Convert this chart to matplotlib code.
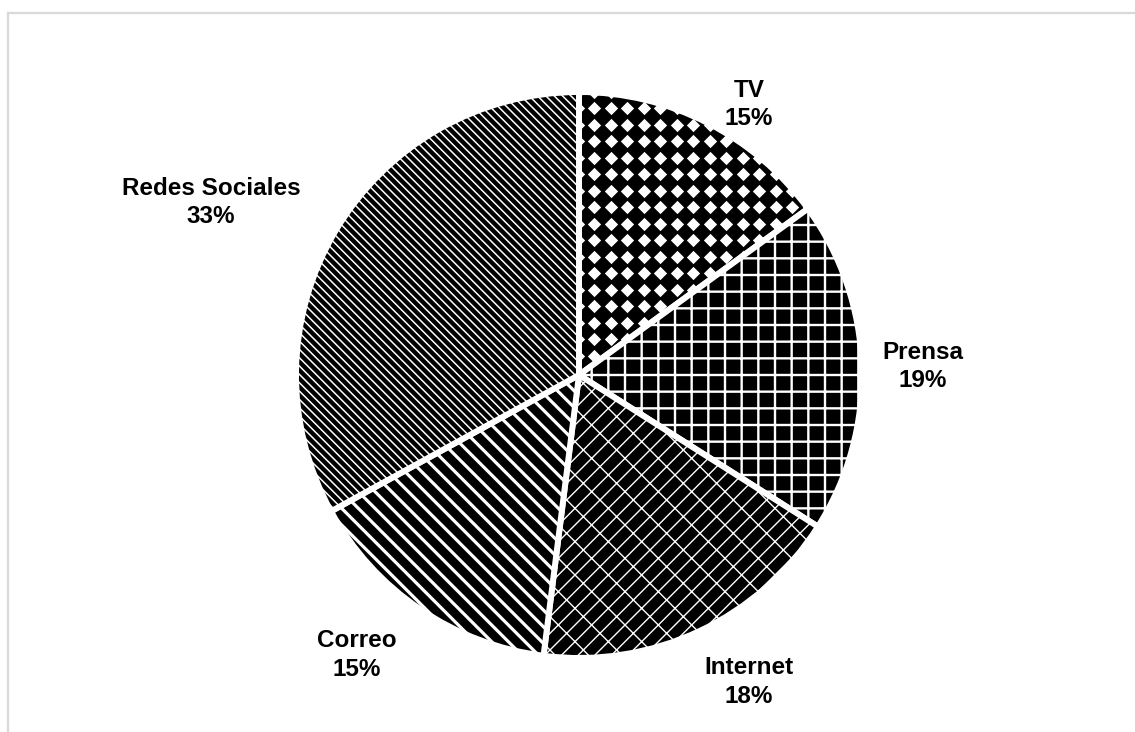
import numpy as np
import matplotlib
matplotlib.use("Agg")
from matplotlib import pyplot as plt
from matplotlib.lines import Line2D

plt.rcParams['font.family'] = ['Liberation Sans', 'DejaVu Sans']

# share of each channel, clockwise from 12 o'clock
canales = ['TV', 'Prensa', 'Internet', 'Correo', 'Redes Sociales']
porcentajes = [15, 19, 18, 15, 33]

# fill textures: (hatch string, hatch line width in pt)
texturas = [(None, 0), ('+', 1.7), ('//\\', 1.0), ('\\\\', 2.3), ('\\\\\\\\', 1.1)]
# label placement in pie-radius units
pos_etiquetas = [(0.60, 0.955), (1.215, 0.03), (0.60, -1.085), (-0.785, -0.99), (-1.30, 0.61)]

W, H, DPI = 1135, 732, 100
cx, cy, R = 579, 375, 283   # pixels

fig = plt.figure(figsize=(W / DPI, H / DPI), dpi=DPI)
ax = fig.add_axes([0, 0, 1, 1])

wedges, _ = ax.pie(porcentajes, startangle=90, counterclock=False, radius=1,
                   colors=['black'] * len(porcentajes),
                   wedgeprops=dict(edgecolor='white', linewidth=4.3))

for w, (h, lw) in zip(wedges, texturas):
    if h:
        if hasattr(w, 'set_hatch_linewidth'):
            w.set_hatch_linewidth(lw)
        else:
            plt.rcParams['hatch.linewidth'] = lw
        w.set_hatch(h)

ax.set_xlim(-cx / R, (W - cx) / R)
ax.set_ylim(-(H - cy) / R, cy / R)
ax.set_aspect('auto')
ax.axis('off')

# white diamonds on the TV slice
paso = 16.5 / R
gx, gy = np.meshgrid(np.arange(-0.005, 1.0, paso), np.arange(0.0, 1.02, paso))
puntos = ax.scatter(gx.ravel(), gy.ravel() + 0.01, marker='D', s=46, c='white',
                    linewidths=0, zorder=3)
puntos.set_clip_path(wedges[0])

for nombre, val, (x, y) in zip(canales, porcentajes, pos_etiquetas):
    ax.text(x, y, f'{nombre}\n{val}%', ha='center', va='center',
            fontsize=17.5, fontweight='bold', linespacing=1.3)

# light frame along the top and left edges
fig.add_artist(Line2D([8 / W, 8 / W], [0, 1 - 13 / H], color='#d9d9d9', lw=1.6))
fig.add_artist(Line2D([8 / W, 1], [1 - 13 / H, 1 - 13 / H], color='#d9d9d9', lw=1.6))

fig.savefig('out.png', dpi=DPI)
